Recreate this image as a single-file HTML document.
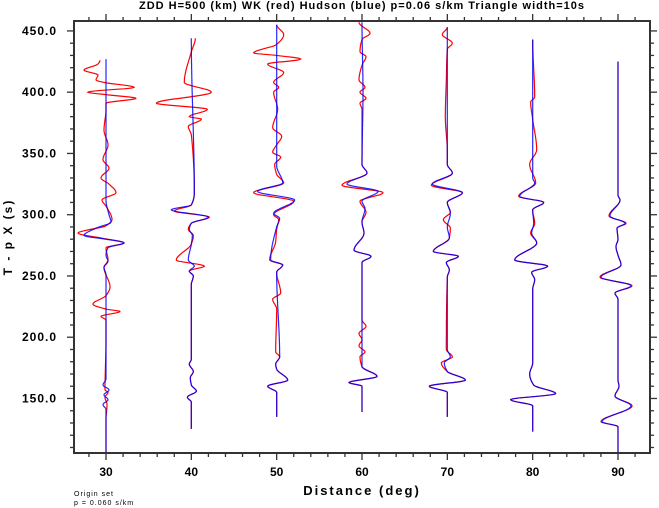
<!DOCTYPE html>
<html><head><meta charset="utf-8"><style>
html,body{margin:0;padding:0;background:#fff;}
svg{display:block;font-family:"Liberation Sans",sans-serif;}
</style></head><body>
<svg id="chart" width="659" height="508" viewBox="0 0 659 508" xmlns="http://www.w3.org/2000/svg">
<text x="362" y="9" text-anchor="middle" font-size="11" font-weight="bold" letter-spacing="1">ZDD H=500 (km) WK (red) Hudson (blue) p=0.06 s/km Triangle width=10s</text>
<g id="axes"></g>
<g id="traces"></g>
<text x="362" y="495" text-anchor="middle" font-size="13" font-weight="bold" letter-spacing="2">Distance (deg)</text>
<text transform="translate(12,237) rotate(-90)" text-anchor="middle" font-size="12" font-weight="bold" letter-spacing="2">T - p X (s)</text>
<text x="74" y="496" font-size="7" letter-spacing="1">Origin set</text>
<text x="74" y="505" font-size="7" letter-spacing="1">p = 0.060 s/km</text>
</svg>
<script>
const xTicks = [30,40,50,60,70,80,90];
const yTicks = [150,200,250,300,350,400,450];
const distances = [30,40,50,60,70,80,90];
const ampScale = 0.1172;
const r30t=[426,423,418,414,410,408,404,400,398,395,391,386,369,357,345,338,330,325,318,312,307,296,291,285,281,277,273,263,257,241,234,227,223,221,217,214,198,157,155,151,145,133,106];
const r30a=[-6,-8,-22,-8,-10,-2,28,-18,0,30,0,0,-2,2,-3,3,-5,3,10,-4,0,6,0,-28,-5,18,0,2,-2,4,0,-13,0,14,-5,0,0,-1,2,-1,1,0,0];
const b30t=[427,312,300,294,289,283,280,277,273,267,262,257,251,166,161,157,153,149,145,141,106];
const b30a=[0,0,3,5,-10,-22,0,18,2,0,2,-2,0,0,-3,3,-2,2,-3,0,0];
const r40t=[444,433,408,400,391,386,380,378,372,365,318,308,303,298,293,288,283,276,263,258,254,250,243,182,178,172,167,161,156,151,147,125];
const r40a=[4,0,-7,20,-35,16,-2,10,-3,0,3,0,-17,18,0,-3,2,0,-15,13,-2,2,0,0,-2,2,-1,0,5,-4,0,0];
const b40t=[444,318,308,304,298,293,288,283,276,263,258,254,250,243,182,178,172,167,161,156,151,147,125];
const b40a=[0,3,0,-20,17,0,-2,1,0,-3,3,-2,2,0,0,-2,2,-1,0,5,-4,0,0];
const r50t=[455,447,439,432,430,427,423,416,408,404,400,386,371,364,357,351,347,341,333,326,318,311,300,296,288,278,263,259,253,236,231,223,188,184,178,174,165,160,155,135];
const r50a=[0,7,0,-23,0,24,-9,7,-3,2,-3,1,-4,5,0,-4,4,-2,0,7,-23,17,-3,2,0,-1,-7,6,0,4,-4,0,-1,3,-1,0,11,-9,0,0];
const b50t=[455,340,326,319,312,301,297,290,263,259,253,184,178,174,165,160,155,135];
const b50a=[0,0,6,-19,18,-3,3,0,-6,6,0,3,-1,0,11,-9,0,0];
const r60t=[457,448,443,433,429,422,410,404,400,395,391,386,341,334,324,318,311,302,294,285,271,266,261,214,209,203,198,193,188,184,176,168,163,160,139];
const r60a=[-3,8,0,-2,4,0,-3,3,-2,4,-2,0,0,5,-20,21,-2,4,0,2,-8,9,0,0,4,-3,0,-3,3,-2,0,15,-13,0,0];
const b60t=[457,400,341,334,325,319,311,305,294,285,271,266,261,184,176,168,163,160,139];
const b60a=[0,1,0,5,-15,16,0,3,0,2,-8,9,0,0,0,15,-13,0,0];
const r70t=[453,447,440,435,410,380,351,341,334,324,318,310,302,296,289,281,270,266,261,255,249,190,184,179,172,165,160,155,135];
const r70a=[0,-5,5,0,-1,-2,0,0,5,-16,15,0,3,-4,3,2,-14,11,-1,2,0,-1,5,-6,0,18,-18,0,0];
const b70t=[453,341,334,325,318,310,301,290,281,270,266,261,255,249,190,184,179,172,165,160,155,135];
const b70a=[0,0,5,-15,15,0,3,0,2,-14,11,-1,2,0,0,3,-3,0,18,-18,0,0];
const r80t=[443,396,392,378,353,341,326,315,310,304,293,285,277,263,258,253,247,239,179,170,161,154,149,144,123];
const r80a=[0,2,-2,0,4,-3,3,-14,11,0,2,-2,4,-18,15,-1,2,0,0,-3,1,23,-22,0,0];
const b80t=[443,330,326,315,310,304,293,285,277,263,258,253,247,239,179,170,161,154,149,144,123];
const b80a=[0,0,2,-13,11,0,1,-1,4,-18,15,-1,2,0,0,-3,1,23,-22,0,0];
const r90t=[425,316,312,299,293,289,280,274,267,259,249,242,236,231,165,160,152,144,131,127,106];
const r90a=[0,0,2,-9,8,-1,0,-2,0,3,-18,14,-3,0,0,1,-3,14,-17,0,0];
const b90t=[425,316,312,299,293,289,280,274,267,259,249,242,236,231,165,160,152,144,131,127,106];
const b90a=[0,0,2,-8,7,-1,0,-2,0,3,-17,13,-3,0,0,1,-3,13,-16,0,0];
const redTimes=[r30t,r40t,r50t,r60t,r70t,r80t,r90t];
const redAmps=[r30a,r40a,r50a,r60a,r70a,r80a,r90a];
const blueTimes=[b30t,b40t,b50t,b60t,b70t,b80t,b90t];
const blueAmps=[b30a,b40a,b50a,b60a,b70a,b80a,b90a];

const X0=74,X1=650,Y0=21,Y1=453;
const dMin=26.25,dMax=93.75,tMin=105.5,tMax=458.1;
function xs(d){return X0+(d-dMin)/(dMax-dMin)*(X1-X0);}
function ys(t){return Y1-(t-tMin)/(tMax-tMin)*(Y1-Y0);}
const NS="http://www.w3.org/2000/svg";
function mk(tag,attrs,parent){const e=document.createElementNS(NS,tag);for(const k in attrs)e.setAttribute(k,attrs[k]);parent.appendChild(e);return e;}
const axes=document.getElementById('axes');
const frame=mk('rect',{x:X0,y:Y0,width:X1-X0,height:Y1-Y0,fill:'none',stroke:'#333','stroke-width':2},axes);


for(let d=28;d<=92;d+=2){
  const maj=d%10===0, L=maj?7:4, x=xs(d);
  const tb=mk('line',{x1:x,x2:x,y1:Y1,y2:Y1+L,stroke:'#333','stroke-width':1.3},axes);
  
  
  const tt=mk('line',{x1:x,x2:x,y1:Y0,y2:Y0-L,stroke:'#333','stroke-width':1.3},axes);
  
  
}
xTicks.forEach(v=>{
  const t=mk('text',{x:xs(v),y:476,'text-anchor':'middle','font-size':12,'font-weight':'bold'},axes);
  t.textContent=String(v);
  
  
});
for(let v=110;v<=450;v+=10){
  const maj=v%50===0, L=maj?7:4, y=ys(v);
  const tl=mk('line',{x1:X0,x2:X0-L,y1:y,y2:y,stroke:'#333','stroke-width':1.3},axes);
  
  
  const tr=mk('line',{x1:X1,x2:X1+L,y1:y,y2:y,stroke:'#333','stroke-width':1.3},axes);
  
  
}
yTicks.forEach(v=>{
  const t=mk('text',{x:57,y:ys(v)+4,'text-anchor':'end','font-size':12,'font-weight':'bold','letter-spacing':1},axes);
  t.textContent=v.toFixed(1);
  
  
});
// monotone cubic (PCHIP) interpolation of amplitude as function of time
function pchip(ts,as){
  const n=ts.length, idx=ts.map((_,i)=>i).sort((a,b)=>ts[a]-ts[b]);
  const t=idx.map(i=>ts[i]), a=idx.map(i=>as[i]);
  const h=[],del=[];
  for(let i=0;i<n-1;i++){h.push(t[i+1]-t[i]);del.push((a[i+1]-a[i])/(t[i+1]-t[i]));}
  const m=new Array(n).fill(0);
  for(let i=1;i<n-1;i++){
    if(del[i-1]*del[i]>0){const w1=2*h[i]+h[i-1],w2=h[i]+2*h[i-1];m[i]=(w1+w2)/(w1/del[i-1]+w2/del[i]);}
  }
  return function(x){
    let i=0; while(i<n-2&&x>t[i+1])i++;
    const hh=h[i],s=(x-t[i])/hh,s2=s*s,s3=s2*s;
    return (2*s3-3*s2+1)*a[i]+(s3-2*s2+s)*hh*m[i]+(-2*s3+3*s2)*a[i+1]+(s3-s2)*hh*m[i+1];
  };
}
function pathFor(d,ts,as){
  const f=pchip(ts,as), lo=Math.min(...ts), hi=Math.max(...ts);
  let s='';
  for(let tt=hi;tt>=lo-0.01;tt-=0.4){
    const x=xs(d+f(Math.max(tt,lo))*ampScale), y=ys(Math.max(tt,lo));
    s+=(s?' L':'M')+x.toFixed(1)+','+y.toFixed(1);
  }
  return s;
}
const tg=document.getElementById('traces');
distances.forEach((d,i)=>{
  const r=mk('path',{d:pathFor(d,redTimes[i],redAmps[i]),fill:'none',stroke:'#ff0000','stroke-width':1.2},tg);
  
  
});
distances.forEach((d,i)=>{
  const b=mk('path',{d:pathFor(d,blueTimes[i],blueAmps[i]),fill:'none',stroke:'#0000ff','stroke-width':1.2,'stroke-opacity':0.85},tg);
  
  
});
</script>
</body></html>
